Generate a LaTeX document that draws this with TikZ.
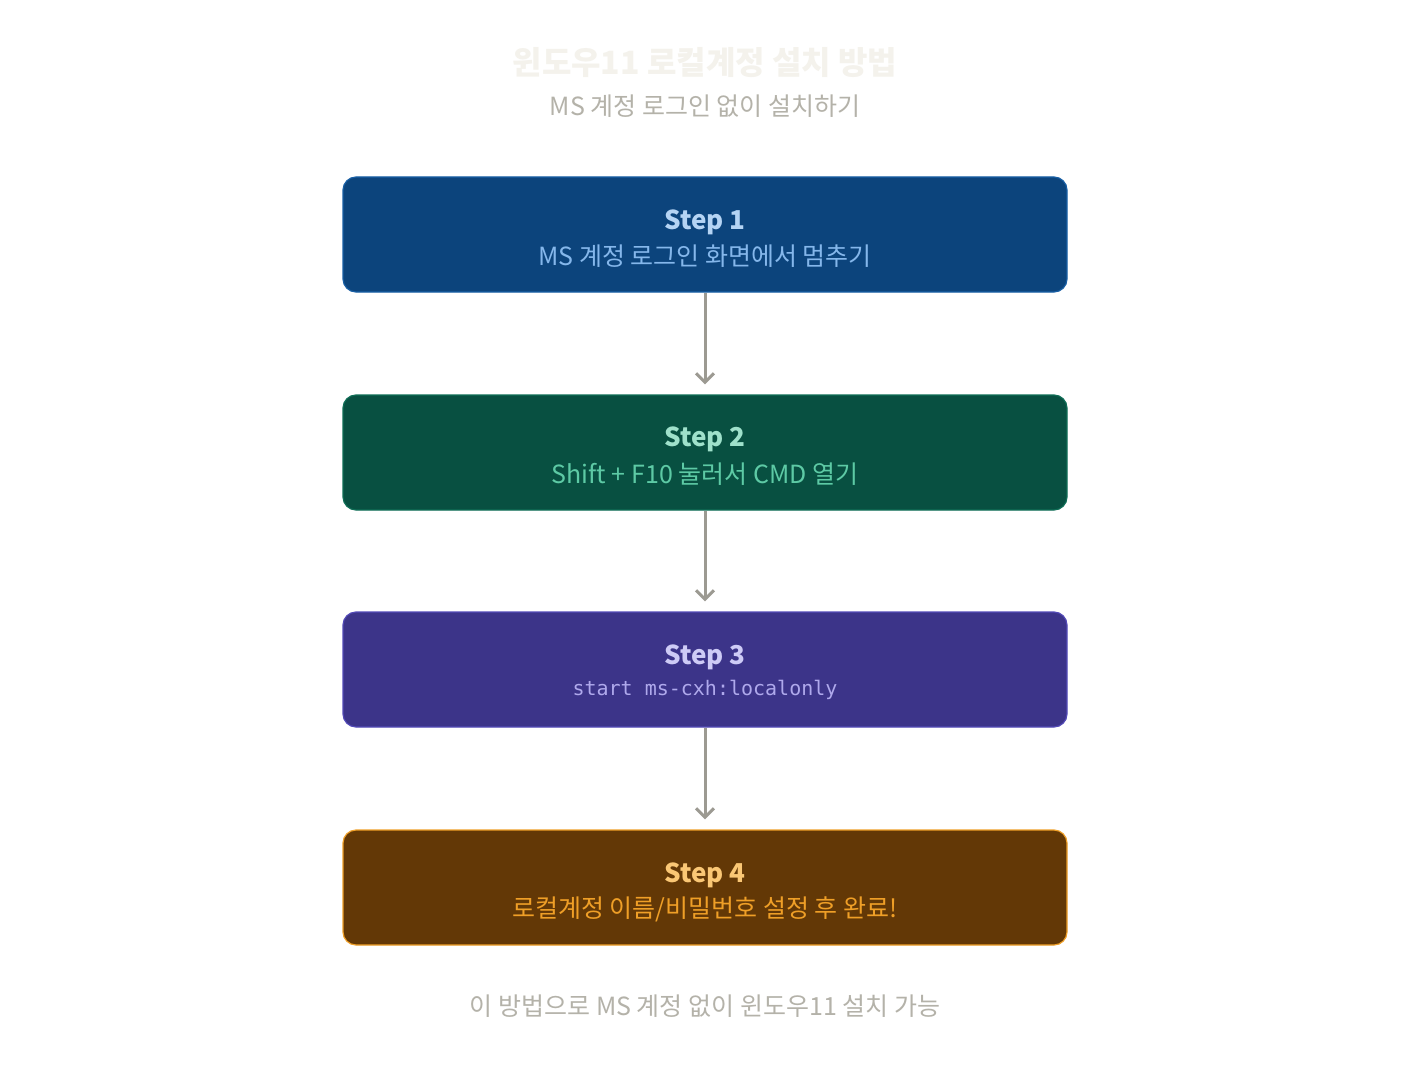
\documentclass[tikz,border=0pt]{standalone}
\usepackage{fontspec}
\setmainfont{Noto Sans CJK KR}
\newfontfamily\kr{Noto Sans CJK KR}
\newfontfamily\monof{DejaVu Sans Mono}
\usetikzlibrary{arrows.meta}
\definecolor{ttl}{HTML}{F4F2EC}
\definecolor{gry}{HTML}{B4B2A9}
\definecolor{arr}{HTML}{9C9A92}
\definecolor{bAf}{HTML}{0C447C}\definecolor{bAd}{HTML}{185FA5}\definecolor{bAt}{HTML}{B5D4F4}\definecolor{bAs}{HTML}{85B7EB}
\definecolor{bBf}{HTML}{085041}\definecolor{bBd}{HTML}{0F6E56}\definecolor{bBt}{HTML}{9FE1CB}\definecolor{bBs}{HTML}{5DCAA5}
\definecolor{bCf}{HTML}{3C3489}\definecolor{bCd}{HTML}{534AB7}\definecolor{bCt}{HTML}{CECBF6}\definecolor{bCs}{HTML}{AFA9EC}
\definecolor{bDf}{HTML}{633806}\definecolor{bDd}{HTML}{EF9F27}\definecolor{bDt}{HTML}{FAC775}\definecolor{bDs}{HTML}{EF9F27}
\tikzset{
  stepbox/.style={draw, line width=1.2pt, rounded corners=13pt, minimum width=724pt, minimum height=115pt, inner sep=0pt},
  steptitle/.style={font=\kr\bfseries\fontsize{26}{30}\selectfont, inner sep=0pt},
  stepsub/.style={font=\kr\fontsize{25}{30}\selectfont, inner sep=0pt},
  conn/.style={draw=arr, line width=3pt, -{Straight Barb[length=9pt,width=18pt,line width=3pt]}},
}
\begin{document}
\begin{tikzpicture}[x=1pt,y=-1pt]
\useasboundingbox[fill=white] (0,0) rectangle (1410,1078);
\node[font=\kr\bfseries\fontsize{32}{38}\selectfont, text=ttl, inner sep=0pt] (title) at (705,63) {윈도우11 로컬계정 설치 방법};
\node[font=\kr\fontsize{25}{30}\selectfont, text=gry, inner sep=0pt] (subtitle) at (705,106) {MS 계정 로그인 없이 설치하기};

\node[stepbox, fill=bAf, draw=bAd] (s1) at (705,234.5) {};
\node[steptitle, text=bAt] (s1t) at (705,222) {Step 1};
\node[stepsub, text=bAs] (s1s) at (705,256) {MS 계정 로그인 화면에서 멈추기};

\node[stepbox, fill=bBf, draw=bBd] (s2) at (705,452.5) {};
\node[steptitle, text=bBt] (s2t) at (705,439) {Step 2};
\node[stepsub, text=bBs] (s2s) at (705,474) {Shift + F10 눌러서 CMD 열기};

\node[stepbox, fill=bCf, draw=bCd] (s3) at (705,669.5) {};
\node[steptitle, text=bCt] (s3t) at (705,657) {Step 3};
\node[font=\monof\fontsize{20}{24}\selectfont, text=bCs, inner sep=0pt] (s3s) at (705,690) {start ms-cxh:localonly};

\node[stepbox, fill=bDf, draw=bDd] (s4) at (705,887.5) {};
\node[steptitle, text=bDt] (s4t) at (705,875) {Step 4};
\node[stepsub, text=bDs] (s4s) at (705,909) {로컬계정 이름/비밀번호 설정 후 완료!};

\node[font=\kr\fontsize{25}{30}\selectfont, text=gry, inner sep=0pt] (foot) at (705,1006) {이 방법으로 MS 계정 없이 윈도우11 설치 가능};

\draw[conn] (s1.south) -- ([yshift=10pt]s2.north);
\draw[conn] (s2.south) -- ([yshift=10pt]s3.north);
\draw[conn] (s3.south) -- ([yshift=10pt]s4.north);
\end{tikzpicture}
\end{document}
